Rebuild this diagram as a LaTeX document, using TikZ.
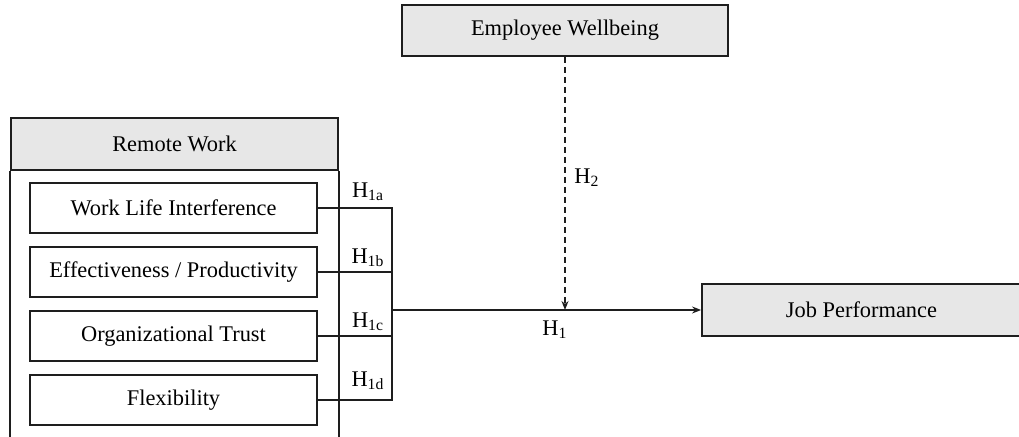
\documentclass[tikz,border=0pt]{standalone}
\usepackage{fontspec}
\setmainfont{Liberation Serif}
\usetikzlibrary{arrows.meta,positioning}
\definecolor{boxgray}{HTML}{E7E7E7}
\definecolor{ink}{HTML}{1E1E1E}

\begin{document}
\begin{tikzpicture}[x=.5pt,y=-.5pt,font=\fontsize{11.2}{13}\selectfont,line cap=butt,
  header/.style={draw=ink,line width=.9pt,fill=boxgray,inner sep=0pt,minimum height=26pt},
  facet/.style={draw=ink,line width=.9pt,inner sep=0pt,minimum width=143.5pt,minimum height=25pt},
  link/.style={draw=ink,line width=.7pt},
  tip/.style={-{Stealth[length=4.5pt,width=3.5pt]}}]
  \useasboundingbox (0,0) rectangle (1019,437);
  % headers
  \node[header,minimum width=163pt,minimum height=25.5pt] (wellbeing) at (565,30.5) {Employee Wellbeing};
  \node[header,minimum width=163.5pt] (remote) at (174.5,144) {Remote Work};
  \node[header,minimum width=159.5pt] (job) at (861.5,310) {Job Performance};
  \draw[ink,line width=.9pt] (remote.south west) -- ++(0,275);
  \draw[ink,line width=.9pt] (remote.south east) -- ++(0,275);
  % remote work facets
  \node[facet] (wli) at (173.5,208) {Work Life Interference};
  \node[facet] (prod) at (173.5,272) {Effectiveness / Productivity};
  \node[facet] (trust) at (173.5,336) {Organizational Trust};
  \node[facet] (flex) at (173.5,400) {Flexibility};
  \coordinate (bus) at (392,310);
  \draw[link] (wli.east) -- (wli.east -| bus) -- (flex.east -| bus) -- (flex.east);
  \draw[link] (prod.east) -- (prod.east -| bus);
  \draw[link] (trust.east) -- (trust.east -| bus);
  \draw[link,tip] (bus) -- (job.west);
  \draw[link,tip,dash pattern=on 3pt off 2pt] (wellbeing.south) -- (wellbeing.south |- bus);
  % hypotheses
  \node (h1a) at (368,192) {H\textsubscript{1a}};
  \node (h1b) at (368,258) {H\textsubscript{1b}};
  \node (h1c) at (368,322) {H\textsubscript{1c}};
  \node (h1d) at (368,381) {H\textsubscript{1d}};
  \node (h1) at (555,330) {H\textsubscript{1}};
  \node (h2) at (587,178) {H\textsubscript{2}};
\end{tikzpicture}
\end{document}
